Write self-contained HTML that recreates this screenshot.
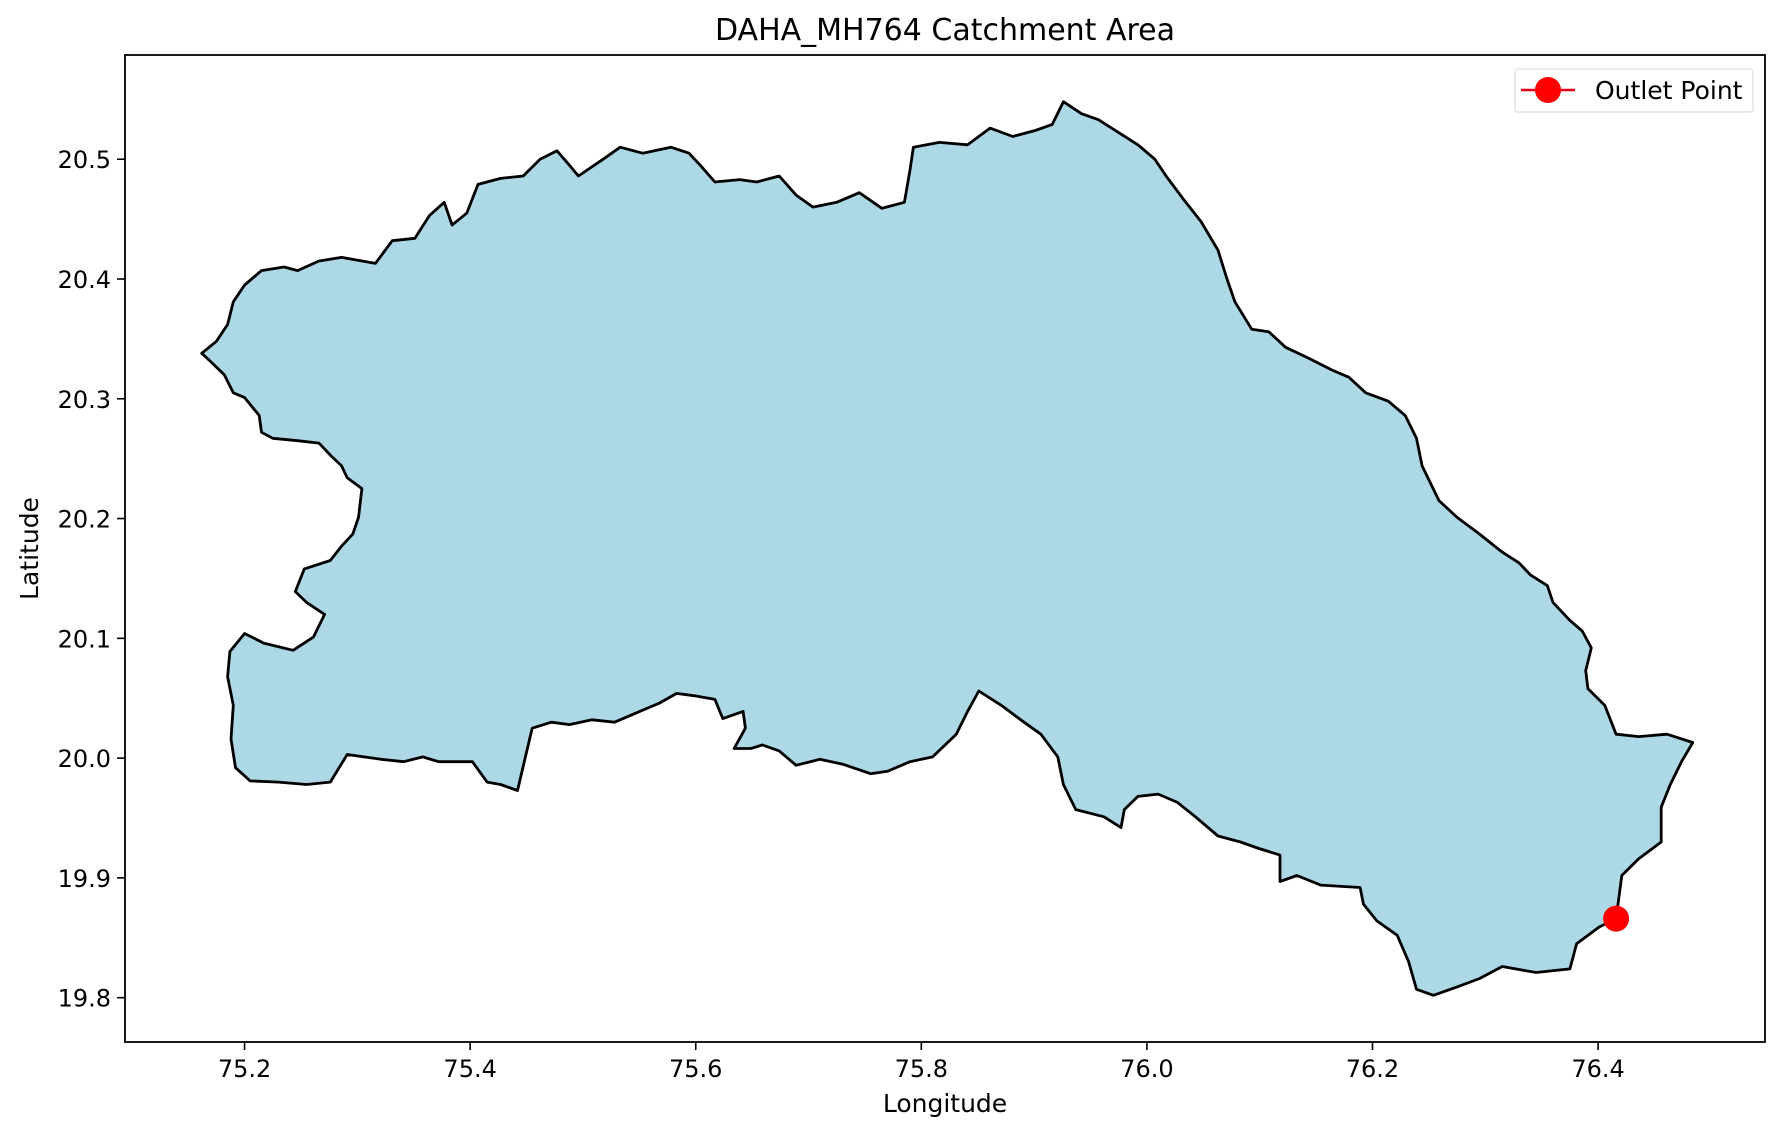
<!DOCTYPE html>
<html><head><meta charset="utf-8"><style>
body{margin:0;background:#fff;}
svg{display:block;font-family:"DejaVu Sans","Liberation Sans",sans-serif;}
</style></head><body>
<svg id="chart" width="1780" height="1134"></svg>
<script>
const lons=[75.162,75.175,75.185,75.190,75.200,75.215,75.235,75.247,75.266,75.286,75.316,75.331,75.351,75.364,75.377,75.384,75.397,75.407,75.427,75.447,75.462,75.477,75.488,75.496,75.518,75.533,75.553,75.578,75.594,75.604,75.617,75.639,75.654,75.674,75.689,75.704,75.725,75.745,75.765,75.785,75.790,75.793,75.816,75.841,75.861,75.881,75.901,75.916,75.926,75.942,75.957,75.977,75.992,76.007,76.017,76.032,76.048,76.063,76.071,76.078,76.093,76.108,76.123,76.143,76.164,76.179,76.194,76.214,76.229,76.239,76.244,76.259,76.275,76.295,76.315,76.330,76.340,76.355,76.360,76.375,76.386,76.394,76.389,76.391,76.406,76.416,76.436,76.461,76.484,76.474,76.464,76.456,76.456,76.436,76.421,76.416,76.401,76.381,76.375,76.345,76.315,76.295,76.275,76.254,76.239,76.232,76.222,76.204,76.192,76.189,76.154,76.133,76.118,76.118,76.098,76.083,76.063,76.043,76.027,76.010,75.992,75.980,75.977,75.962,75.937,75.926,75.921,75.906,75.891,75.871,75.851,75.841,75.831,75.810,75.790,75.770,75.755,75.730,75.710,75.689,75.674,75.659,75.649,75.634,75.644,75.642,75.624,75.617,75.599,75.583,75.568,75.548,75.528,75.508,75.488,75.472,75.455,75.449,75.442,75.427,75.415,75.402,75.387,75.372,75.358,75.341,75.321,75.291,75.276,75.255,75.230,75.205,75.192,75.188,75.190,75.185,75.187,75.200,75.217,75.243,75.261,75.271,75.255,75.245,75.253,75.276,75.286,75.296,75.301,75.304,75.291,75.286,75.276,75.266,75.247,75.225,75.215,75.213,75.200,75.190,75.182,75.170];
const lats=[20.338,20.348,20.362,20.381,20.395,20.407,20.410,20.407,20.415,20.418,20.413,20.432,20.434,20.453,20.464,20.445,20.455,20.479,20.484,20.486,20.500,20.507,20.495,20.486,20.500,20.510,20.505,20.510,20.505,20.495,20.481,20.483,20.481,20.486,20.470,20.460,20.464,20.472,20.459,20.464,20.491,20.510,20.514,20.512,20.526,20.519,20.524,20.529,20.548,20.538,20.533,20.521,20.512,20.500,20.486,20.467,20.448,20.424,20.400,20.381,20.358,20.356,20.343,20.334,20.324,20.318,20.305,20.298,20.286,20.267,20.244,20.215,20.201,20.187,20.172,20.163,20.153,20.144,20.130,20.115,20.106,20.092,20.073,20.058,20.044,20.020,20.018,20.020,20.013,19.997,19.978,19.959,19.930,19.916,19.902,19.866,19.859,19.845,19.824,19.821,19.826,19.816,19.809,19.802,19.807,19.830,19.852,19.864,19.878,19.892,19.894,19.902,19.897,19.919,19.925,19.930,19.935,19.951,19.963,19.970,19.968,19.957,19.942,19.951,19.957,19.978,20.001,20.020,20.030,20.044,20.056,20.039,20.020,20.001,19.997,19.989,19.987,19.995,19.999,19.994,20.006,20.011,20.008,20.008,20.025,20.039,20.033,20.049,20.052,20.054,20.046,20.038,20.030,20.032,20.028,20.030,20.025,20.001,19.973,19.978,19.980,19.997,19.997,19.997,20.001,19.997,19.999,20.003,19.980,19.978,19.980,19.981,19.992,20.016,20.044,20.068,20.089,20.104,20.096,20.090,20.101,20.120,20.130,20.139,20.158,20.165,20.177,20.187,20.201,20.225,20.234,20.244,20.253,20.263,20.265,20.267,20.272,20.286,20.301,20.305,20.320,20.331];
const outletLon=[76.416];
const outletLat=[19.866];
const xTicks=[75.2,75.4,75.6,75.8,76.0,76.2,76.4];
const yTicks=[19.8,19.9,20.0,20.1,20.2,20.3,20.4,20.5];

const L=125,R=1765,T=55,B=1042;
const xMin=75.094,xMax=76.548,yMin=19.763,yMax=20.587;
const sx=v=>L+(v-xMin)/(xMax-xMin)*(R-L);
const sy=v=>B-(v-yMin)/(yMax-yMin)*(B-T);
const svg=document.getElementById('chart');
const NS='http://www.w3.org/2000/svg';
function mk(tag,attrs,parent){const e=document.createElementNS(NS,tag);for(const k in attrs)e.setAttribute(k,attrs[k]);(parent||svg).appendChild(e);return e;}

let t=mk('text',{x:(L+R)/2,y:40,'text-anchor':'middle','font-size':30,fill:'#000'});
t.textContent='DAHA_MH764 Catchment Area';



let d=lons.map((v,i)=>(i?'L':'M')+sx(v).toFixed(1)+','+sy(lats[i]).toFixed(1)).join('')+'Z';
let poly=mk('path',{d:d,fill:'#add8e6',stroke:'#000','stroke-width':2.8,'stroke-linejoin':'round'});



outletLon.forEach((v,i)=>{
  let c=mk('circle',{cx:sx(v),cy:sy(outletLat[i]),r:13,fill:'#ff0000'});
  
  
});

let frame=mk('rect',{x:L,y:T,width:R-L,height:B-T,fill:'none',stroke:'#000','stroke-width':1.8});



xTicks.forEach(v=>{
  const x=sx(v);
  let l=mk('line',{x1:x,x2:x,y1:B,y2:B+8,stroke:'#000','stroke-width':1.6});
  
  
  let tx=mk('text',{x:x,y:B+35,'text-anchor':'middle','font-size':24,fill:'#000'});
  tx.textContent=v.toFixed(1);
  
  
});
yTicks.forEach(v=>{
  const y=sy(v);
  let l=mk('line',{x1:L-8,x2:L,y1:y,y2:y,stroke:'#000','stroke-width':1.6});
  
  
  let tx=mk('text',{x:L-14,y:y+9,'text-anchor':'end','font-size':24,fill:'#000'});
  tx.textContent=v.toFixed(1);
  
  
});
let xl=mk('text',{x:(L+R)/2,y:1112,'text-anchor':'middle','font-size':25,fill:'#000'});
xl.textContent='Longitude';


let yl=mk('text',{x:38,y:(T+B)/2,'text-anchor':'middle','font-size':25,fill:'#000',transform:'rotate(-90 38 '+((T+B)/2)+')'});
yl.textContent='Latitude';



let lg=mk('g',{});


mk('rect',{x:1515,y:69,width:238,height:43,rx:3,fill:'#fff',stroke:'#ddd','stroke-width':1.2},lg);
mk('line',{x1:1521,x2:1575,y1:90,y2:90,stroke:'#e8001c','stroke-width':2.5},lg);
mk('circle',{cx:1548,cy:90,r:13,fill:'#ff0000'},lg);
let lt=mk('text',{x:1595,y:99,'font-size':25,fill:'#000'},lg);
lt.textContent='Outlet Point';


</script>
</body></html>
